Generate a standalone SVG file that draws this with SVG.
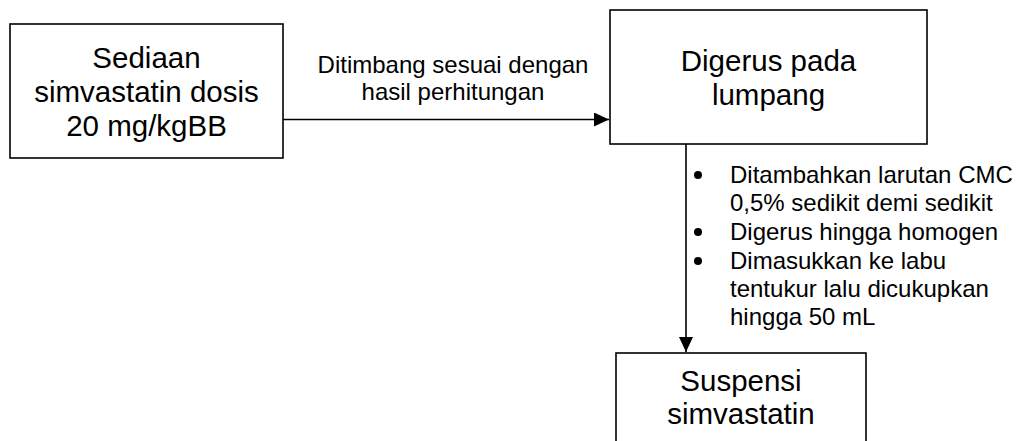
<svg xmlns="http://www.w3.org/2000/svg" width="1019" height="441" viewBox="0 0 1019 441">
<style>
.box{fill:#fff;stroke:#000;stroke-width:1.6}
.t{font-family:"Liberation Sans",Arial,sans-serif;fill:#000}
.big{font-size:29.5px;text-anchor:middle}
.small{font-size:24px}
.lbl{text-anchor:middle}
.conn{stroke:#000;stroke-width:1.6;fill:none}
</style>
<defs>
<marker id="ah" viewBox="0 0 15 14" refX="15" refY="7" markerWidth="15" markerHeight="14" markerUnits="userSpaceOnUse" orient="auto">
<path d="M0,0 L15,7 L0,14 Z" fill="#000"/>
</marker>
</defs>
<rect width="1019" height="441" fill="#fff"/>
<g id="connectors">
<line class="conn" x1="283" y1="119.5" x2="609" y2="119.5" marker-end="url(#ah)"/>
<line class="conn" x1="686" y1="144" x2="686" y2="352" marker-end="url(#ah)"/>
</g>
<g id="label-weigh">
<text class="t small lbl" x="453" y="73">Ditimbang sesuai dengan</text>
<text class="t small lbl" x="453" y="100">hasil perhitungan</text>
</g>
<g id="node-sediaan">
<rect class="box" x="10" y="24" width="273" height="134"/>
<text class="t big" x="146.5" y="68">Sediaan</text>
<text class="t big" x="146.5" y="102">simvastatin dosis</text>
<text class="t big" x="146.5" y="136">20 mg/kgBB</text>
</g>
<g id="node-digerus">
<rect class="box" x="610" y="10" width="317" height="134"/>
<text class="t big" x="768.5" y="71">Digerus pada</text>
<text class="t big" x="768.5" y="105">lumpang</text>
</g>
<g id="label-steps">
<circle cx="698" cy="175" r="4"/>
<circle cx="698" cy="232" r="4"/>
<circle cx="698" cy="261" r="4"/>
<text class="t small" x="730" y="183">Ditambahkan larutan CMC</text>
<text class="t small" x="730" y="211">0,5% sedikit demi sedikit</text>
<text class="t small" x="730" y="240">Digerus hingga homogen</text>
<text class="t small" x="730" y="269">Dimasukkan ke labu</text>
<text class="t small" x="730" y="297">tentukur lalu dicukupkan</text>
<text class="t small" x="730" y="325">hingga 50 mL</text>
</g>
<g id="node-suspensi">
<rect class="box" x="616" y="353" width="250" height="110"/>
<text class="t big" x="741" y="391">Suspensi</text>
<text class="t big" x="741" y="424">simvastatin</text>
</g>
</svg>
